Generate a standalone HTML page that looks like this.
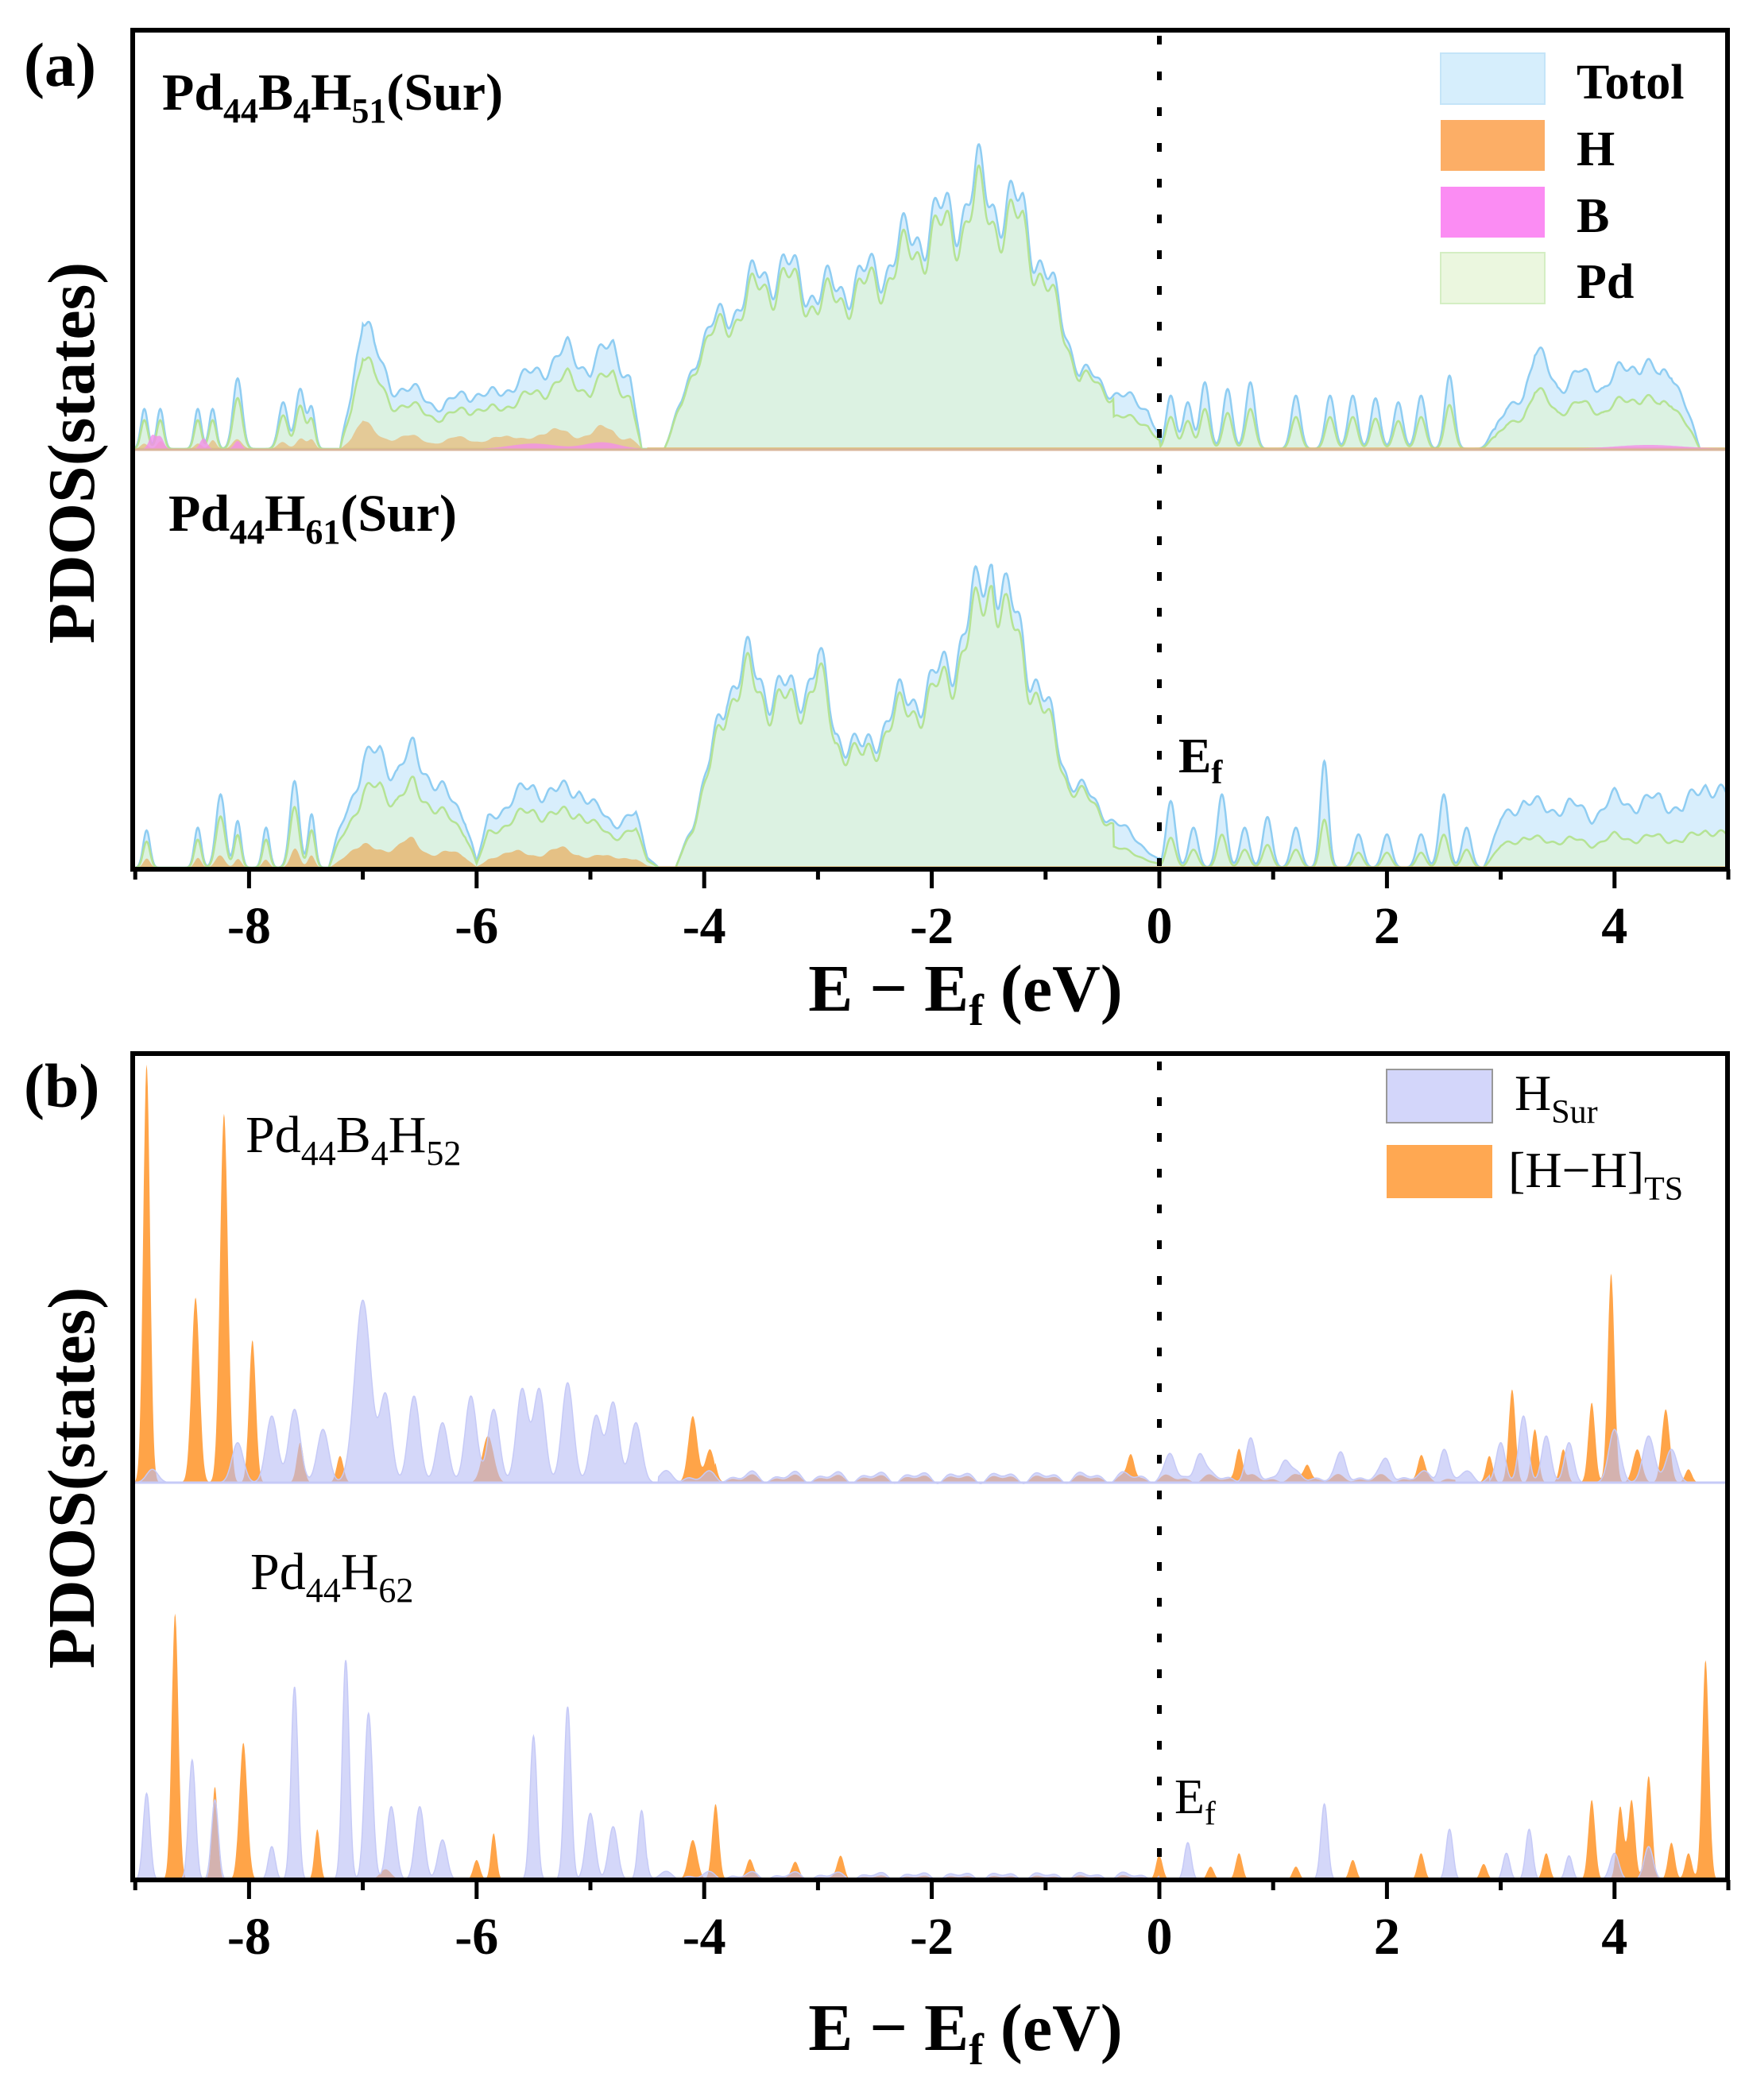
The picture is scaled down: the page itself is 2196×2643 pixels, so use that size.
<!DOCTYPE html>
<html><head><meta charset="utf-8"><style>
html,body{margin:0;padding:0;background:#fff;}
svg{display:block;}
text{font-family:"Liberation Serif",serif;fill:#000;}
</style></head><body>
<svg id="s" xmlns="http://www.w3.org/2000/svg" width="2196" height="2643" viewBox="0 0 2196 2643">
<defs>
<clipPath id="ca"><rect x="167" y="38" width="2007" height="1056"/></clipPath>
<clipPath id="cb"><rect x="167" y="1326" width="2007" height="1040"/></clipPath>
</defs>
<g id="ga" clip-path="url(#ca)"></g>
<g id="gb" clip-path="url(#cb)"></g>
<g id="axes"></g>
<rect x="167" y="38" width="2007" height="1056" fill="none" stroke="#000" stroke-width="6"/>
<rect x="167" y="1326" width="2007" height="1040" fill="none" stroke="#000" stroke-width="6"/>
<line x1="1459" y1="45" x2="1459" y2="1090" stroke="#000" stroke-width="6" stroke-dasharray="11 34"/>
<line x1="1459" y1="1336" x2="1459" y2="2362" stroke="#000" stroke-width="6" stroke-dasharray="11 34"/>

<text x="30" y="108" font-size="78" font-weight="bold">(a)</text>
<text x="30" y="1393" font-size="78" font-weight="bold">(b)</text>

<text font-size="66" font-weight="bold" x="204" y="138">Pd<tspan font-size="44" dy="16">44</tspan><tspan dy="-16">B</tspan><tspan font-size="44" dy="16">4</tspan><tspan dy="-16">H</tspan><tspan font-size="44" dy="16">51</tspan><tspan dy="-16">(Sur)</tspan></text>
<text font-size="66" font-weight="bold" x="212" y="668">Pd<tspan font-size="44" dy="16">44</tspan><tspan dy="-16">H</tspan><tspan font-size="44" dy="16">61</tspan><tspan dy="-16">(Sur)</tspan></text>
<text font-size="66" x="309" y="1450">Pd<tspan font-size="44" dy="16">44</tspan><tspan dy="-16">B</tspan><tspan font-size="44" dy="16">4</tspan><tspan dy="-16">H</tspan><tspan font-size="44" dy="16">52</tspan></text>
<text font-size="66" x="315" y="2000">Pd<tspan font-size="44" dy="16">44</tspan><tspan dy="-16">H</tspan><tspan font-size="44" dy="16">62</tspan></text>

<text font-size="62" font-weight="bold" x="1483" y="972">E<tspan font-size="42" dy="14">f</tspan></text>
<text font-size="62" x="1478" y="2282">E<tspan font-size="42" dy="14">f</tspan></text>

<rect x="1813" y="67" width="131" height="64" fill="#d6eefc" stroke="#c4e4f8" stroke-width="2"/>
<rect x="1813" y="151" width="131" height="64" fill="#fcae66"/>
<rect x="1813" y="235" width="131" height="64" fill="#fb8cf3"/>
<rect x="1813" y="318" width="131" height="64" fill="#ebf7df" stroke="#d4eec3" stroke-width="2"/>
<text font-size="62" font-weight="bold" x="1984" y="124">Totol</text>
<text font-size="62" font-weight="bold" x="1984" y="208">H</text>
<text font-size="62" font-weight="bold" x="1984" y="292">B</text>
<text font-size="62" font-weight="bold" x="1984" y="375">Pd</text>
<rect x="1745" y="1346" width="133" height="67" fill="#d3d6fa" stroke="#999" stroke-width="2"/>
<rect x="1745" y="1441" width="133" height="67" fill="#ffa852"/>
<text font-size="64" x="1906" y="1397">H<tspan font-size="42" dy="16">Sur</tspan></text>
<text font-size="64" x="1898" y="1494">[H−H]<tspan font-size="42" dy="16">TS</tspan></text>

<text font-size="84" font-weight="bold" transform="translate(118,570) rotate(-90)" text-anchor="middle">PDOS(states)</text>
<text font-size="84" font-weight="bold" transform="translate(118,1860) rotate(-90)" text-anchor="middle">PDOS(states)</text>

<text font-size="84" font-weight="bold" x="1215" y="1272" text-anchor="middle">E − E<tspan font-size="56" dy="18">f</tspan><tspan dy="-18"> (eV)</tspan></text>
<text font-size="84" font-weight="bold" x="1215" y="2580" text-anchor="middle">E − E<tspan font-size="56" dy="18">f</tspan><tspan dy="-18"> (eV)</tspan></text>
</svg>
<script>
(function(){
var NS="http://www.w3.org/2000/svg";
function X(E){return 1459+143.2*E;}
var K=1.676;
function interp(pts,E){
 if(!pts||!pts.length) return 0;
 if(E<=pts[0][0]||E>=pts[pts.length-1][0]) return 0;
 for(var i=1;i<pts.length;i++){if(E<=pts[i][0]){var a=pts[i-1],b=pts[i];return a[1]+(b[1]-a[1])*(E-a[0])/(b[0]-a[0]);}}
 return 0;}
function gsum(g,E){var s=0;for(var i=0;i<g.length;i++){var d=(E-g[i][0])/g[i][2];if(d*d<30)s+=g[i][1]*Math.exp(-0.5*d*d);}return s;}
function wig(E,ph){return 0.86+0.09*Math.sin(E*19+ph)+0.05*Math.sin(E*47+ph*2);}
function series(env,g,ph){return function(E){return interp(env,E)*wig(E,ph)+gsum(g,E);};}
function path(f,base,fill,stroke,sw,op){
 var d="M"+X(-9.1)+","+base;
 for(var E=-9.1;E<=5.1;E+=0.005){var h=f(E)*K; d+=" L"+X(E).toFixed(1)+","+(base-h).toFixed(1);}
 d+=" L"+X(5.1)+","+base+" Z";
 var p=document.createElementNS(NS,"path");p.setAttribute("d",d);p.setAttribute("fill",fill);
 if(op!=null)p.setAttribute("fill-opacity",op);
 if(stroke){p.setAttribute("stroke",stroke);p.setAttribute("stroke-width",sw);}else p.setAttribute("stroke","none");
 return p;}
function mul(f,r){return function(E){return f(E)*r(E);};}
var ga=document.getElementById("ga"),gb=document.getElementById("gb");

var aTg=[[-8.92,30,.03],[-8.78,30,.03],[-8.45,30,.03],[-8.32,30,.03],[-8.1,53,.04],[-7.7,35,.04],[-7.55,45,.04],[-7.45,30,.03],
[0.1,40,.04],[0.25,35,.04],[0.4,50,.04],[0.6,45,.04],[0.8,50,.04],[1.2,40,.04],[1.5,40,.04],[1.7,40,.04],[1.9,38,.04],[2.1,35,.04],[2.3,40,.04],[2.55,55,.04],[2.95,15,.05]];
var aTe=[[-7.2,0],[-7.1,50],[-7.0,125],[-6.9,85],[-6.75,55],[-6.5,48],[-6.3,35],[-6.1,50],[-5.9,45],[-5.6,60],[-5.4,72],[-5.2,85],[-5.0,70],[-4.8,92],[-4.65,60],[-4.55,0],[-4.35,0],[-4.2,40],[-4.05,90],[-3.9,108],[-3.7,128],[-3.5,152],[-3.3,158],[-3.0,135],[-2.8,142],[-2.6,148],[-2.4,162],[-2.2,182],[-2.0,198],[-1.8,205],[-1.6,230],[-1.45,218],[-1.2,205],[-1.0,155],[-0.85,110],[-0.7,70],[-0.5,55],[-0.3,45],[-0.1,35],[0.0,10],[0.01,0],
[2.95,0],[3.05,30],[3.2,50],[3.3,85],[3.5,55],[3.7,65],[3.9,55],[4.1,70],[4.25,78],[4.4,60],[4.5,72],[4.6,45],[4.75,0]];
var aT=series(aTe,aTg,0.3);
var pdr=function(E){if(E>-4.4&&E<-0.4)return 0.93; if(E<-4.4)return 0.72; return 0.6;};
var aPd=mul(aT,pdr);
var aH=function(E){if(E<-4.5)return aT(E)*(0.18+0.05*Math.sin(E*15));return 1.2;};
var aB=function(E){return gsum([[-8.85,10,.03],[-8.78,9,.03],[-8.4,8,.03],[-8.1,6,.03],[-5.5,4,.2],[-4.9,5,.15],[4.3,3,.3]],E);};
ga.appendChild(path(aT,565,"#d8eefc","#8fcdf2",2.5));
ga.appendChild(path(aPd,565,"#dcf2e2","#b5e394",2.5));
ga.appendChild(path(aH,565,"#e8b46e",null,0,0.65));
ga.appendChild(path(aB,565,"#f28ee8",null,0,0.8));
var bTg=[[-8.9,28,.03],[-8.45,30,.03],[-8.25,55,.04],[-8.1,35,.03],[-7.85,30,.03],[-7.6,65,.04],[-7.45,40,.03],
[0.1,50,.04],[0.3,30,.04],[0.55,55,.04],[0.75,30,.04],[0.95,38,.04],[1.2,30,.04],[1.45,80,.035],[1.75,25,.04],[2.0,25,.04],[2.3,25,.04],[2.5,55,.04],[2.7,30,.04]];
var bTe=[[-7.3,0],[-7.15,50],[-7.0,90],[-6.85,100],[-6.7,85],[-6.55,100],[-6.4,80],[-6.25,60],[-6.1,45],[-6.0,5],[-5.9,40],[-5.7,60],[-5.5,70],[-5.3,65],[-5.1,70],[-4.95,50],[-4.8,40],[-4.6,45],[-4.5,10],[-4.4,0],
[-4.25,0],[-4.1,40],[-3.95,90],[-3.8,160],[-3.6,175],[-3.4,155],[-3.2,150],[-3.0,180],[-2.85,120],[-2.6,100],[-2.4,130],[-2.2,150],[-2.0,155],[-1.8,190],[-1.6,230],[-1.47,280],[-1.35,230],[-1.2,200],[-1.0,140],[-0.8,80],[-0.6,60],[-0.4,40],[-0.2,25],[0,5],[0.01,0],
[2.85,0],[3.0,40],[3.2,60],[3.4,50],[3.6,55],[3.8,45],[4.0,60],[4.2,55],[4.4,60],[4.6,50],[4.8,75],[5.0,60],[5.2,60]];
var bT=series(bTe,bTg,1.1);
var bPd=mul(bT,function(E){if(E>-4.4&&E<-0.4)return 0.93; if(E<-4.4)return 0.7; return 0.45;});
var bH=function(E){if(E<-4.4)return bT(E)*(0.2+0.05*Math.sin(E*14));return 1;};
ga.appendChild(path(bT,1092,"#d8eefc","#8fcdf2",2.5));
ga.appendChild(path(bPd,1092,"#dcf2e2","#b5e394",2.5));
ga.appendChild(path(bH,1092,"#e8ad5e",null,0,0.7));
var l=document.createElementNS(NS,"line");l.setAttribute("x1",167);l.setAttribute("x2",2174);l.setAttribute("y1",566);l.setAttribute("y2",566);l.setAttribute("stroke","#d9b59a");l.setAttribute("stroke-width",3);ga.appendChild(l);

function noise(a,b,h){return function(E){if(E<a||E>b)return 0;return h*(0.6+0.4*Math.sin(E*17)+0.3*Math.sin(E*33));};}
var cO=[[-8.9,314,.03],[-8.47,139,.035],[-8.22,277,.035],[-7.97,107,.03],[-7.55,30,.03],[-7.2,20,.03],[-5.9,35,.05],[-4.1,50,.04],[-3.95,25,.04],[-0.25,18,.03],[0.7,25,.03],[1.3,12,.03],[2.3,15,.03],[2.9,20,.03],[3.1,70,.03],[3.3,40,.03],[3.55,25,.03],[3.8,60,.03],[3.97,157,.03],[4.2,25,.04],[4.45,55,.035],[4.65,10,.03]];
var cP=[[-8.85,10,.05],[-8.1,30,.05],[-7.8,50,.05],[-7.6,55,.05],[-7.35,40,.05],[-7.0,137,.07],[-6.8,65,.05],[-6.55,65,.05],[-6.3,45,.05],[-6.05,65,.05],[-5.85,55,.05],[-5.6,70,.05],[-5.45,70,.05],[-5.2,75,.05],[-4.95,50,.05],[-4.8,60,.05],[-4.6,45,.05],
[0.1,15,.04],[0.35,20,.04],[0.8,25,.04],[1.1,15,.04],[1.6,15,.04],[2.0,12,.04],[2.5,22,.04],[3.0,30,.04],[3.2,50,.04],[3.4,35,.04],[3.6,30,.04],[4.0,40,.05],[4.3,35,.05],[4.5,25,.05]];
var nO=noise(-3.9,2.6,5),nP=noise(-4.4,2.9,7);
var fO=function(E){return gsum(cO,E)+nO(E);};
var fP=function(E){return gsum(cP,E)+nP(E);};
gb.appendChild(path(fO,1866,"#ffa448",null,0,1));
gb.appendChild(path(fP,1866,"#b8bdf5","#c6caf7",1.5,0.6));
var dO=[[-8.65,200,.03],[-8.3,70,.025],[-8.05,103,.035],[-7.4,38,.025],[-6.8,8,.05],[-6.0,15,.03],[-5.85,35,.025],[-4.1,30,.04],[-3.9,57,.03],[-3.6,12,.03],[-3.2,10,.03],[-2.8,15,.03],[0.0,18,.03],[0.45,10,.03],[0.7,20,.03],[1.2,10,.03],[1.7,15,.03],[2.3,20,.03],[2.85,12,.03],[3.4,20,.03],[3.8,60,.03],[4.05,55,.03],[4.15,60,.03],[4.3,78,.03],[4.5,28,.03],[4.65,20,.03],[4.8,165,.03]];
var dP=[[-8.9,65,.03],[-8.5,90,.03],[-8.3,60,.03],[-7.8,25,.03],[-7.6,145,.03],[-7.15,165,.03],[-6.95,125,.035],[-6.75,55,.04],[-6.5,55,.04],[-6.3,30,.04],[-5.5,108,.03],[-5.2,130,.03],[-5.0,50,.04],[-4.8,40,.04],[-4.55,52,.03],[0.25,28,.03],[1.45,57,.03],[2.55,38,.03],[3.05,20,.03],[3.25,38,.03],[3.6,18,.03],[4.0,20,.04],[4.3,25,.04]];
var mO=noise(-3.8,0,3),mP=noise(-4.5,0,5);
gb.appendChild(path(function(E){return gsum(dO,E)+mO(E);},2366,"#ffa448",null,0,1));
gb.appendChild(path(function(E){return gsum(dP,E)+mP(E);},2366,"#b8bdf5","#c6caf7",1.5,0.6));
var l2=document.createElementNS(NS,"line");l2.setAttribute("x1",167);l2.setAttribute("x2",2174);l2.setAttribute("y1",1866);l2.setAttribute("y2",1866);l2.setAttribute("stroke","#c6caf7");l2.setAttribute("stroke-width",3);gb.appendChild(l2);

var ax=document.getElementById("axes");
[[1094,1187],[2366,2459]].forEach(function(p){
 for(var v=-9;v<=5;v++){
  var x=X(v),maj=(v%2===0);
  var t=document.createElementNS(NS,"line");t.setAttribute("x1",x);t.setAttribute("x2",x);t.setAttribute("y1",p[0]);t.setAttribute("y2",p[0]+(maj?24:13));t.setAttribute("stroke","#000");t.setAttribute("stroke-width",5);ax.appendChild(t);
  if(maj){var tx=document.createElementNS(NS,"text");tx.setAttribute("x",x);tx.setAttribute("y",p[1]);tx.setAttribute("text-anchor","middle");tx.setAttribute("font-size","66");tx.setAttribute("font-weight","bold");tx.textContent=(v<0?"-":"")+Math.abs(v);ax.appendChild(tx);}
 }});
})();
</script>
</body></html>
